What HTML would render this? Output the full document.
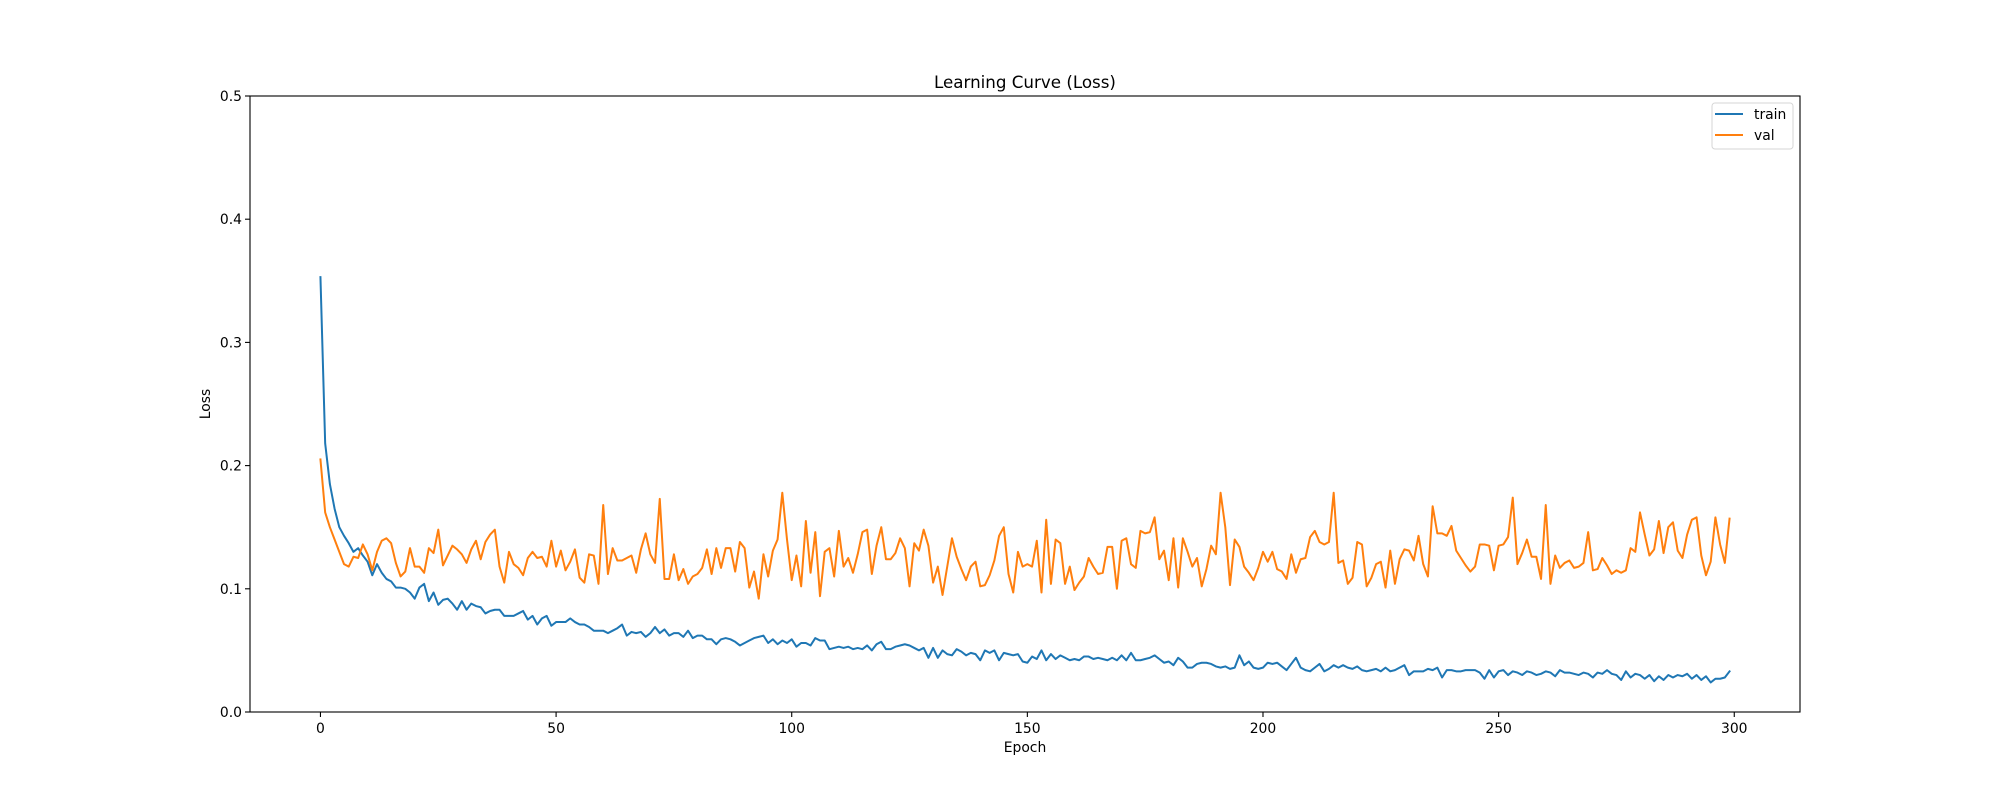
<!DOCTYPE html>
<html><head><meta charset="utf-8"><style>
html,body{margin:0;padding:0;background:#fff;}
svg{display:block;font-family:"DejaVu Sans","Liberation Sans",sans-serif;}
</style></head><body>
<svg id="chart" width="2000" height="800" viewBox="0 0 2000 800" xmlns="http://www.w3.org/2000/svg">
<rect x="0" y="0" width="2000" height="800" fill="#fff"/>
<g id="plot"></g>
<text x="1025" y="88" text-anchor="middle" font-size="16.7" fill="#000">Learning Curve (Loss)</text>
<text x="1025" y="752" text-anchor="middle" font-size="13.9" fill="#000">Epoch</text>
<text x="0" y="0" transform="translate(210,404) rotate(-90)" text-anchor="middle" font-size="13.9" fill="#000">Loss</text>
<g>
<rect x="1712" y="103" width="81" height="46" rx="3" fill="#fff" fill-opacity="0.8" stroke="#d6d6d6"/>
<line x1="1715" y1="114" x2="1743" y2="114" stroke="#1f77b4" stroke-width="2"/>
<text x="1754" y="119" font-size="13.9" fill="#000">train</text>
<line x1="1715" y1="135" x2="1743" y2="135" stroke="#ff7f0e" stroke-width="2"/>
<text x="1754" y="140" font-size="13.9" fill="#000">val</text>
</g>
</svg>
<script>
const trainLoss=[.353,.218,.185,.165,.150,.143,.137,.130,.133,.127,.122,.111,.120,.113,.108,.106,.101,.101,.100,.097,.092,.101,.104,.090,.097,.087,.091,.092,.088,.083,.090,.083,.088,.086,.085,.080,.082,.083,.083,.078,.078,.078,.080,.082,.075,.078,.071,.076,.078,.070,.073,.073,.073,.076,.073,.071,.071,.069,.066,.066,
.066,.064,.066,.068,.071,.062,.065,.064,.065,.061,.064,.069,.064,.067,.062,.064,.064,.061,.066,.060,
.062,.062,.059,.059,.055,.059,.060,.059,.057,.054,.056,.058,.060,.061,.062,.056,.059,.055,.058,.056,
.059,.053,.056,.056,.054,.060,.058,.058,.051,.052,.053,.052,.053,.051,.052,.051,.054,.050,.055,.057,
.051,.051,.053,.054,.055,.054,.052,.050,.052,.044,.052,.044,.050,.047,.046,.051,.049,.046,.048,.047,
.042,.050,.048,.050,.042,.048,.047,.046,.047,.041,.040,.045,.043,.050,.042,.047,.043,.046,.044,.042,
.043,.042,.045,.045,.043,.044,.043,.042,.044,.042,.046,.042,.048,.042,.042,.043,.044,.046,.043,.040,
.041,.038,.044,.041,.036,.036,.039,.040,.040,.039,.037,.036,.037,.035,.036,.046,.038,.041,.036,.035,
.036,.040,.039,.040,.037,.034,.039,.044,.036,.034,.033,.036,.039,.033,.035,.038,.036,.038,.036,.035,
.037,.034,.033,.034,.035,.033,.036,.033,.034,.036,.038,.030,.033,.033,.033,.035,.034,.036,.028,.034,
.034,.033,.033,.034,.034,.034,.032,.027,.034,.028,.033,.034,.030,.033,.032,.030,.033,.032,.030,.031,
.033,.032,.029,.034,.032,.032,.031,.030,.032,.031,.028,.032,.031,.034,.031,.030,.026,.033,.028,.031,
.030,.027,.030,.025,.029,.026,.030,.028,.030,.029,.031,.027,.030,.026,.029,.024,.027,.027,.028,.033];
const valLoss=[.205,.162,.150,.140,.130,.120,.118,.126,.125,.136,.128,.115,.130,.139,.141,.137,.121,.110,.114,.133,.118,.118,.113,.133,.129,.148,.119,.127,.135,.132,.128,.121,.132,.139,.124,.138,.144,.148,.118,.105,.130,.120,.117,.111,.125,.130,.125,.126,.118,.139,.118,.131,.115,.122,.132,.109,.105,.128,.127,.104,.168,
.112,.133,.123,.123,.125,.127,.113,.132,.145,.128,.121,.173,.108,.108,.128,.107,.116,.104,.110,.112,
.117,.132,.112,.133,.117,.133,.133,.114,.138,.133,.101,.114,.092,.128,.110,.131,.140,.178,.140,.107,
.127,.102,.155,.113,.146,.094,.130,.133,.110,.147,.118,.125,.113,.128,.146,.148,.112,.135,.150,.124,
.124,.129,.141,.133,.102,.137,.131,.148,.135,.105,.118,.095,.118,.141,.126,.116,.107,.118,.122,.102,
.103,.111,.123,.143,.150,.112,.097,.130,.118,.120,.118,.139,.097,.156,.104,.140,.137,.104,.118,.099,
.105,.110,.125,.118,.112,.113,.134,.134,.100,.139,.141,.120,.117,.147,.145,.146,.158,.124,.131,.107,
.141,.101,.141,.130,.118,.125,.102,.116,.135,.128,.178,.150,.103,.140,.134,.118,.113,.107,.117,.130,
.122,.130,.116,.114,.108,.128,.113,.124,.125,.142,.147,.138,.136,.138,.178,.121,.123,.104,.109,.138,
.136,.102,.109,.120,.122,.101,.131,.104,.124,.132,.131,.123,.143,.120,.110,.167,.145,.145,.143,.151,
.131,.125,.119,.114,.118,.136,.136,.135,.115,.135,.136,.142,.174,.120,.129,.140,.126,.126,.108,.168,
.104,.127,.117,.121,.123,.117,.118,.121,.146,.115,.116,.125,.119,.112,.115,.113,.115,.133,.130,.162,
.144,.127,.132,.155,.129,.150,.154,.131,.125,.144,.156,.158,.127,.111,.122,.158,.136,.121,.157];
const xTicks=[0,50,100,150,200,250,300];
const yTicks=[0.0,0.1,0.2,0.3,0.4,0.5];
const yTickLabels=["0.0","0.1","0.2","0.3","0.4","0.5"];

const NS="http://www.w3.org/2000/svg";
const L=250,R=1800,T=96,B=712;
const n=Math.max(trainLoss.length,valLoss.length);
const xMin=-0.05*(n-1),xMax=(n-1)*1.05;
const yMin=0,yMax=0.5;
function sx(v){return L+(v-xMin)/(xMax-xMin)*(R-L);}
function sy(v){return B-(v-yMin)/(yMax-yMin)*(B-T);}
const plot=document.getElementById('plot');
function mk(tag,attrs){const e=document.createElementNS(NS,tag);for(const k in attrs)e.setAttribute(k,attrs[k]);return e;}

function series(arr,color,name){
  const pts=arr.map((v,i)=>sx(i).toFixed(2)+','+sy(v).toFixed(2)).join(' ');
  const pl=mk('polyline',{points:pts,fill:'none',stroke:color,'stroke-width':2,'stroke-linejoin':'round','stroke-linecap':'square'});
  
  
  plot.appendChild(pl);
}
series(trainLoss,'#1f77b4','train-line');
series(valLoss,'#ff7f0e','val-line');

const frame=mk('rect',{x:L,y:T,width:R-L,height:B-T,fill:'none',stroke:'#000','stroke-width':1.1});


plot.appendChild(frame);

xTicks.forEach(t=>{
  const x=sx(t);
  const tk=mk('line',{x1:x,y1:B,x2:x,y2:B+5,stroke:'#000','stroke-width':1.1});
  
  
  plot.appendChild(tk);
  const tx=mk('text',{x:x,y:B+21,'text-anchor':'middle','font-size':13.9,fill:'#000'});
  tx.textContent=String(t);
  
  
  plot.appendChild(tx);
});
yTicks.forEach((t,i)=>{
  const y=sy(t);
  const tk=mk('line',{x1:L-5,y1:y,x2:L,y2:y,stroke:'#000','stroke-width':1.1});
  
  
  plot.appendChild(tk);
  const tx=mk('text',{x:L-8,y:y+5,'text-anchor':'end','font-size':13.9,fill:'#000'});
  tx.textContent=yTickLabels[i];
  
  
  plot.appendChild(tx);
});
</script>
</body></html>
